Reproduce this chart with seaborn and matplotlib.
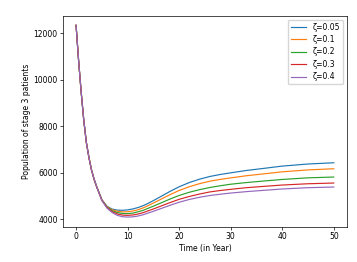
import seaborn as sns
import matplotlib
matplotlib.use("Agg")
import matplotlib.pyplot as plt

# tiempos (años) y valores
tiempo = [0, 0.5, 1, 1.5, 2, 2.5, 3, 3.5, 4,
          5, 6, 7, 8, 9, 10, 11, 12, 13, 14, 15, 16, 17, 18, 19, 20,
          22, 24, 26, 28, 30, 33, 36, 40, 45, 50]
inicio = [12350, 10800, 9450, 8250, 7300, 6650, 6120, 5720, 5400]

z005 = inicio + [4850, 4560, 4440, 4395, 4387, 4405, 4445, 4505, 4585, 4688, 4803, 4925, 5050, 5173, 5289, 5400,
                 5585, 5730, 5845, 5930, 6000, 6100, 6180, 6290, 6380, 6434]
z01 = inicio + [4840, 4540, 4410, 4345, 4320, 4325, 4355, 4410, 4490, 4590, 4700, 4810, 4925, 5035, 5140, 5240,
                5405, 5537, 5642, 5718, 5783, 5873, 5946, 6044, 6126, 6176]
z02 = inicio + [4830, 4520, 4370, 4290, 4250, 4245, 4265, 4320, 4385, 4475, 4565, 4660, 4755, 4850, 4940, 5025,
                5166, 5278, 5370, 5445, 5510, 5580, 5640, 5715, 5785, 5819]
z03 = inicio + [4820, 4500, 4330, 4230, 4180, 4170, 4185, 4225, 4285, 4365, 4445, 4530, 4615, 4700, 4780, 4860,
                4984, 5090, 5180, 5240, 5290, 5360, 5410, 5475, 5530, 5561]
z04 = inicio + [4810, 4480, 4290, 4170, 4110, 4097, 4105, 4140, 4195, 4270, 4345, 4425, 4505, 4585, 4660, 4735,
                4855, 4950, 5025, 5080, 5130, 5190, 5240, 5305, 5360, 5389]

series = [z005, z01, z02, z03, z04]
etiquetas = ['ζ=0.05', 'ζ=0.1', 'ζ=0.2', 'ζ=0.3', 'ζ=0.4']
cores = sns.color_palette('tab10', 5)

plt.rcParams['font.size'] = 5.5
plt.rcParams['axes.linewidth'] = 0.5
plt.rcParams['xtick.major.width'] = 0.5
plt.rcParams['ytick.major.width'] = 0.5
plt.rcParams['xtick.major.size'] = 2
plt.rcParams['ytick.major.size'] = 2
plt.rcParams['xtick.major.pad'] = 2
plt.rcParams['ytick.major.pad'] = 2

fig = plt.figure(figsize=(3.57, 2.62), dpi=100)
ax = fig.add_axes([0.177, 0.135, 0.794, 0.805])

for vals, lab, cor in zip(series, etiquetas, cores):
    sns.lineplot(x=tiempo, y=vals, label=lab, color=cor, linewidth=0.85, ax=ax)

ax.set_xlabel('Time (in Year)', labelpad=2)
ax.set_ylabel('Population of stage 3 patients', labelpad=2)
ax.set_xticks([0, 10, 20, 30, 40, 50])
ax.set_yticks([4000, 6000, 8000, 10000, 12000])
ax.legend(loc='upper right', fontsize=5.5, handlelength=2, borderpad=0.4, labelspacing=0.45)

fig.savefig('out.png', dpi=100)
